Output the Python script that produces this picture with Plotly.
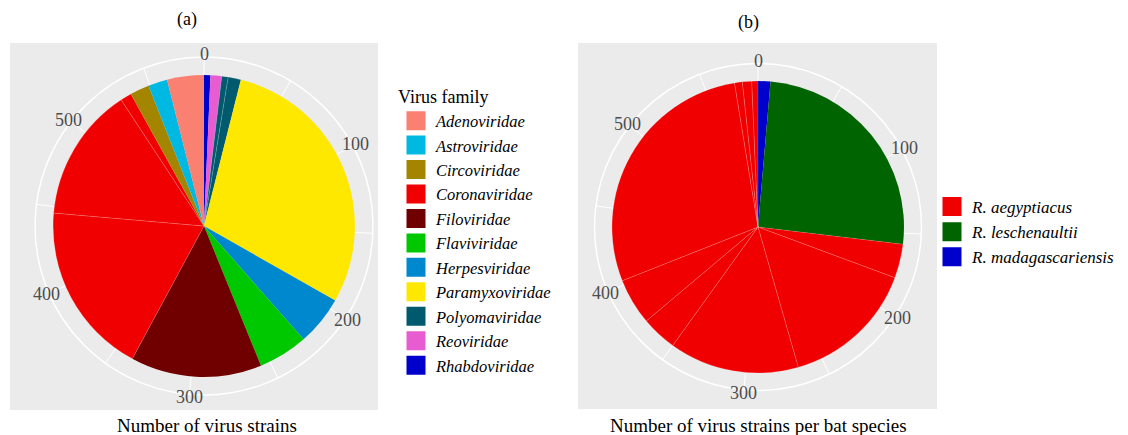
import math
import plotly.graph_objects as go

# ---------------- data (a) ----------------
families = ["Adenoviridae", "Astroviridae", "Circoviridae", "Coronaviridae", "Filoviridae",
            "Flaviviridae", "Herpesviridae", "Paramyxoviridae", "Polyomaviridae",
            "Reoviridae", "Rhabdoviridae"]
strain_counts = [23, 12, 12, 199, 82, 31, 31, 171, 12, 7, 4]
family_colors = ["#FA8072", "#00B9E3", "#A38500", "#F00000", "#700000", "#00C800",
                 "#0088CE", "#FFE800", "#005A6E", "#E85CD2", "#0000CD"]
# individual records that show as faint seams inside a slice
coronaviridae_parts = [108, 84, 7]
polyomaviridae_parts = [4, 8]

# ---------------- data (b) ----------------
bat_species = ["R. aegyptiacus", "R. leschenaultii", "R. madagascariensis"]
species_counts = [427, 149, 8]
species_colors = ["#F00000", "#006400", "#0000CD"]
aegyptiacus_parts = [22, 87, 84, 23, 30, 166, 5, 6, 4]

grid_values = list(range(0, 600, 50))
label_values = [0, 100, 200, 300, 400, 500]

W, H = 1128, 435
SERIF = "Liberation Serif"


def px_x(x):
    return x / W


def px_y(y):
    return 1 - y / H


fig = go.Figure()


def add_pie(names, counts, colors, parts_map, subplot, legend):
    total = sum(counts)
    deg = 360.0 / total
    start = 0.0
    # ggplot stacks the last level first, clockwise from 0
    for name, cnt, col in reversed(list(zip(names, counts, colors))):
        parts = parts_map.get(name, [cnt])
        thetas, widths = [], []
        s = start
        for p in parts:
            thetas.append((s + p / 2) * deg)
            widths.append(p * deg)
            s += p
        seam = len(parts) > 1
        fig.add_trace(go.Barpolar(
            r=[1] * len(parts), theta=thetas, width=widths,
            marker=dict(color=col,
                        line=dict(color="rgba(255,255,255,0.22)" if seam else col,
                                  width=0.7 if seam else 0)),
            showlegend=False, subplot=subplot, hoverinfo="skip"))
        start += cnt
    for name, col in zip(names, colors):
        fig.add_trace(go.Scatterpolar(
            r=[None], theta=[None], mode="markers", name=f"<i>{name}</i>",
            marker=dict(symbol="square", size=16, color=col, line=dict(color=col, width=3)),
            subplot=subplot, legend=legend))
    return total


total_a = add_pie(families, strain_counts, family_colors,
                  {"Coronaviridae": coronaviridae_parts, "Polyomaviridae": polyomaviridae_parts},
                  "polar", "legend")
total_b = add_pie(bat_species, species_counts, species_colors,
                  {"R. aegyptiacus": aegyptiacus_parts}, "polar2", "legend2")


def angular(total):
    return dict(rotation=90, direction="clockwise", tickmode="array",
                tickvals=[v * 360.0 / total for v in grid_values],
                showticklabels=False,
                showgrid=True, gridcolor="white", gridwidth=1.3,
                showline=True, linecolor="white", linewidth=1.5, ticks="",
                layer="below traces")


def radial():
    return dict(visible=False, range=[0, 1.12])


ca, Ra = (204, 226), 169
cb, Rb = (758, 227), 163.5

annotations = []


def theta_labels(center, radius, total):
    # theta-axis labels on the polar scale, sitting on the outer circle (ggplot style)
    rl = radius + 3
    for v in label_values:
        a = math.radians(v * 360.0 / total)
        x = center[0] + rl * math.sin(a)
        y = center[1] - rl * math.cos(a)
        annotations.append(dict(text=str(v), x=px_x(x), y=px_y(y), xref="paper", yref="paper",
                                xanchor="center", yanchor="middle", showarrow=False,
                                font=dict(family=SERIF, size=18, color="#4D4D4D")))


theta_labels(ca, Ra, total_a)
theta_labels(cb, Rb, total_b)

for txt, x, y in [("(a)", 187, 20), ("(b)", 748, 22),
                  ("Number of virus strains", 207, 425),
                  ("Number of virus strains per bat species", 758, 425)]:
    annotations.append(dict(text=txt, x=px_x(x), y=px_y(y), xref="paper", yref="paper",
                            xanchor="center", yanchor="middle", showarrow=False,
                            font=dict(family=SERIF, size=19 if y > 400 else 18, color="black")))

fig.update_layout(
    width=W, height=H, margin=dict(l=0, r=0, t=0, b=0),
    paper_bgcolor="white", plot_bgcolor="white",
    polar=dict(domain=dict(x=[px_x(ca[0] - Ra), px_x(ca[0] + Ra)],
                           y=[px_y(ca[1] + Ra), px_y(ca[1] - Ra)]),
               bgcolor="rgba(0,0,0,0)", bargap=0,
               radialaxis=radial(), angularaxis=angular(total_a)),
    polar2=dict(domain=dict(x=[px_x(cb[0] - Rb), px_x(cb[0] + Rb)],
                            y=[px_y(cb[1] + Rb), px_y(cb[1] - Rb)]),
                bgcolor="rgba(0,0,0,0)", bargap=0,
                radialaxis=radial(), angularaxis=angular(total_b)),
    legend=dict(x=px_x(396), y=px_y(80), xanchor="left", yanchor="top",
                title=dict(text="Virus family", font=dict(family=SERIF, size=18, color="black")),
                font=dict(family=SERIF, size=16.5, color="black"),
                bgcolor="rgba(0,0,0,0)", itemwidth=30, itemsizing="trace"),
    legend2=dict(x=px_x(932), y=px_y(189), xanchor="left", yanchor="top",
                 font=dict(family=SERIF, size=17, color="black"),
                 bgcolor="rgba(0,0,0,0)", itemwidth=30, itemsizing="trace"),
    shapes=[
        dict(type="rect", xref="paper", yref="paper", x0=px_x(10), x1=px_x(378),
             y0=px_y(410), y1=px_y(43), fillcolor="#EBEBEB", line=dict(width=0), layer="below"),
        dict(type="rect", xref="paper", yref="paper", x0=px_x(578), x1=px_x(937),
             y0=px_y(409), y1=px_y(43), fillcolor="#EBEBEB", line=dict(width=0), layer="below"),
    ],
    annotations=annotations,
)

fig.write_html("out.html", config={"displayModeBar": False},
               post_script="document.body.style.margin='0';")
